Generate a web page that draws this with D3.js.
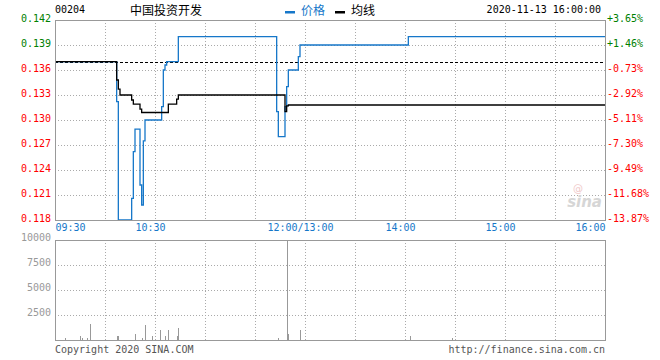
<!DOCTYPE html>
<html><head><meta charset="utf-8">
<script src="https://cdn.jsdelivr.net/npm/d3@7"></script>
<style>
html,body{margin:0;padding:0;background:#fff;}
svg{display:block;}
</style></head>
<body><svg id="chart" width="660" height="360"></svg>
<script>
// ---------- data ----------
const stockCode = "00204";
const stockName = "中国投资开发";
const dateLabel = "2020-11-13 16:00:00";
const prevClose = 0.137;
const priceTicks = [0.142,0.139,0.136,0.133,0.130,0.127,0.124,0.121,0.118];
const volTicks = [10000,7500,5000,2500];
const timeLabels = ["09:30","10:30","12:00/13:00","14:00","15:00","16:00"];
const timeLabelAt = ["09:30","10:30","12:00","14:00","15:00","16:00"];
const gridTimes = ["10:00","10:30","11:00","11:30","12:00","13:30","14:00","14:30","15:00","15:30"];

const priceTimes = ["09:30","10:07","10:08","10:16","10:17","10:18","10:21","10:22","10:23","10:24","10:34","10:35","10:36","10:37","10:44","11:43","11:44","11:48","11:49","11:50","11:56","11:57","14:02","16:00"];
const priceValues = [0.137,0.1322,0.118,0.1206,0.1262,0.1289,0.1222,0.1198,0.1275,0.130,0.1316,0.136,0.1366,0.137,0.140,0.131,0.128,0.1316,0.134,0.136,0.1376,0.139,0.140,0.140];

const avgTimes = ["09:30","10:07","10:08","10:09","10:16","10:17","10:21","10:22","10:38","10:43","10:44","11:48","11:49","11:50","16:00"];
const avgValues = [0.137,0.1348,0.1337,0.133,0.1324,0.1319,0.1313,0.1309,0.1319,0.1325,0.133,0.131,0.1317,0.1318,0.1318];

const volTimes = ["09:36","09:45","09:46","09:49","09:51","10:07","10:08","10:18","10:22","10:24","10:28","10:33","10:36","10:38","10:43","10:44","11:44","11:49","11:50","11:57","14:03","14:28"];
const volValues = [230,400,230,230,1600,400,400,600,230,1500,400,1000,400,1000,400,1200,230,15000,600,1000,400,230];

// ---------- layout ----------
const L = 55, R = 605, PT = 20, PB = 220, VT = 240, VB = 340;
const mono = "'DejaVu Sans Mono', 'Liberation Mono', monospace";
const cjk = "'Noto Sans CJK SC', sans-serif";
const blue = "#1677c9", gridC = "#aaa", frameC = "#999";

function tIndex(s){
  const [h,m] = s.split(":").map(Number);
  const t = h*60+m;
  return t <= 720 ? t-570 : t-780+150;
}
const x = d3.scaleLinear().domain([0,330]).range([L,R]);
const y = d3.scaleLinear().domain([0.118,0.142]).range([PB,PT]);
const yv = d3.scaleLinear().domain([0,10000]).range([VB,VT]);

const svg = d3.select("#chart");

// ---------- grids ----------
const g = svg.append("g").attr("shape-rendering","crispEdges");
g.selectAll(".vg").data(gridTimes).join("line")
  .attr("x1",d=>Math.round(x(tIndex(d)))+0.5).attr("x2",d=>Math.round(x(tIndex(d)))+0.5)
  .attr("y1",PT).attr("y2",PB).attr("stroke",gridC).attr("stroke-dasharray","1,2");
g.selectAll(".vg2").data(gridTimes).join("line")
  .attr("x1",d=>Math.round(x(tIndex(d)))+0.5).attr("x2",d=>Math.round(x(tIndex(d)))+0.5)
  .attr("y1",VT).attr("y2",VB).attr("stroke",gridC).attr("stroke-dasharray","1,2");
g.selectAll(".hg").data(priceTicks.slice(1,-1)).join("line")
  .attr("x1",L).attr("x2",R).attr("y1",d=>Math.round(y(d))+0.5).attr("y2",d=>Math.round(y(d))+0.5)
  .attr("stroke",gridC).attr("stroke-dasharray","1,2");
g.selectAll(".vhg").data(volTicks.slice(1)).join("line")
  .attr("x1",L).attr("x2",R).attr("y1",d=>Math.round(yv(d))+0.5).attr("y2",d=>Math.round(yv(d))+0.5)
  .attr("stroke",gridC).attr("stroke-dasharray","1,2");

// prev close dashed
g.append("line").attr("x1",L).attr("x2",R)
  .attr("y1",Math.round(y(prevClose))+0.5).attr("y2",Math.round(y(prevClose))+0.5)
  .attr("stroke","#000").attr("stroke-dasharray","3,2");

// watermark
svg.append("text").attr("x",R-3).attr("y",207).attr("text-anchor","end")
  .attr("font-family","'DejaVu Sans', sans-serif").attr("font-weight","bold").attr("font-style","italic")
  .attr("font-size",15).attr("fill","#d6d6d6").text("sina");
svg.append("text").attr("x",R-27).attr("y",192).attr("text-anchor","middle")
  .attr("font-family","'DejaVu Sans', sans-serif").attr("font-size",10).attr("fill","#f0c8c8").text("@");

// ---------- volume ----------
svg.append("defs").append("clipPath").attr("id","vclip").append("rect")
  .attr("x",L).attr("y",VT).attr("width",R-L).attr("height",VB-VT);
svg.append("g").attr("clip-path","url(#vclip)").attr("shape-rendering","crispEdges")
  .selectAll("line").data(volTimes.map((t,i)=>({t,v:volValues[i]}))).join("line")
  .attr("x1",d=>Math.round(x(tIndex(d.t)))+0.5).attr("x2",d=>Math.round(x(tIndex(d.t)))+0.5)
  .attr("y1",VB).attr("y2",d=>yv(d.v)).attr("stroke","#999").attr("stroke-width",1);

// ---------- lines ----------
const line = d3.line().x(d=>x(tIndex(d.t))).y(d=>y(d.v)).curve(d3.curveStepAfter);
svg.append("path").datum(priceTimes.map((t,i)=>({t,v:priceValues[i]})))
  .attr("d",line).attr("fill","none").attr("stroke",blue).attr("stroke-width",1.3);
svg.append("path").datum(avgTimes.map((t,i)=>({t,v:avgValues[i]})))
  .attr("d",line).attr("fill","none").attr("stroke","#000").attr("stroke-width",1.3);

// ---------- frames ----------
const f = svg.append("g").attr("fill","none").attr("stroke",frameC).attr("shape-rendering","crispEdges");
f.append("rect").attr("x",L+0.5).attr("y",PT+0.5).attr("width",R-L).attr("height",PB-PT);
f.append("rect").attr("x",L+0.5).attr("y",VT+0.5).attr("width",R-L).attr("height",VB-VT);

// ---------- axes ----------
function styleAxis(sel){
  sel.select(".domain").remove();
  sel.selectAll(".tick line").remove();
  sel.selectAll("text").attr("font-family",mono).attr("font-size",10);
}
const axL = svg.append("g").attr("transform",`translate(${L},0)`)
  .call(d3.axisLeft(y).tickValues(priceTicks).tickSize(0).tickPadding(4).tickFormat(d3.format(".3f")));
styleAxis(axL);
axL.selectAll("text").attr("dy","0.1em").attr("fill",d=>d>prevClose?"#008000":(d<prevClose?"#ff0000":"#000"));

const pct = d=>{const p=(d-prevClose)/prevClose*100;return (p>0?"+":"")+p.toFixed(2)+"%";};
const axR = svg.append("g").attr("transform",`translate(${R},0)`)
  .call(d3.axisRight(y).tickValues(priceTicks).tickSize(0).tickPadding(2).tickFormat(pct));
styleAxis(axR);
axR.selectAll("text").attr("dy","0.1em").attr("fill",d=>d>prevClose?"#008000":(d<prevClose?"#ff0000":"#000"));

const axV = svg.append("g").attr("transform",`translate(${L},0)`)
  .call(d3.axisLeft(yv).tickValues(volTicks).tickSize(0).tickPadding(4).tickFormat(d=>String(d)));
styleAxis(axV);
axV.selectAll("text").attr("dy","0.05em").attr("fill","#999");

const axB = svg.append("g").attr("transform",`translate(0,${PB})`)
  .call(d3.axisBottom(x).tickValues(timeLabelAt.map(tIndex)).tickSize(0).tickPadding(0)
    .tickFormat((d,i)=>timeLabels[i]));
styleAxis(axB);
axB.selectAll("text").attr("dy","0").attr("y",10.5).attr("fill",blue)
  .attr("text-anchor",(d,i)=>i===0?"start":(i===timeLabels.length-1?"end":"middle"))
  .attr("dx",(d,i)=>(i===0||i===timeLabels.length-1)?0:-5);

// ---------- header ----------
svg.append("text").attr("x",55).attr("y",12.5).attr("font-family",mono).attr("font-size",10).attr("fill","#000").text(stockCode);
svg.append("text").attr("x",130).attr("y",14.5).attr("font-family",cjk).attr("font-size",12).attr("fill","#000").text(stockName);
svg.append("rect").attr("x",285).attr("y",11).attr("width",10).attr("height",2.5).attr("fill",blue);
svg.append("text").attr("x",301).attr("y",14.5).attr("font-family",cjk).attr("font-size",12).attr("fill",blue).text("价格");
svg.append("rect").attr("x",335).attr("y",11).attr("width",10).attr("height",2.5).attr("fill","#000");
svg.append("text").attr("x",351).attr("y",14.5).attr("font-family",cjk).attr("font-size",12).attr("fill","#000").text("均线");
svg.append("text").attr("x",601).attr("y",12.5).attr("text-anchor","end").attr("font-family",mono).attr("font-size",10).attr("fill","#000").text(dateLabel);

// ---------- footer ----------
svg.append("text").attr("x",55).attr("y",352.5).attr("font-family",mono).attr("font-size",10).attr("fill","#555").text("Copyright 2020 SINA.COM");
svg.append("text").attr("x",605).attr("y",352.5).attr("text-anchor","end").attr("font-family",mono).attr("font-size",10).attr("fill","#555").text("http://finance.sina.com.cn");
</script></body></html>
